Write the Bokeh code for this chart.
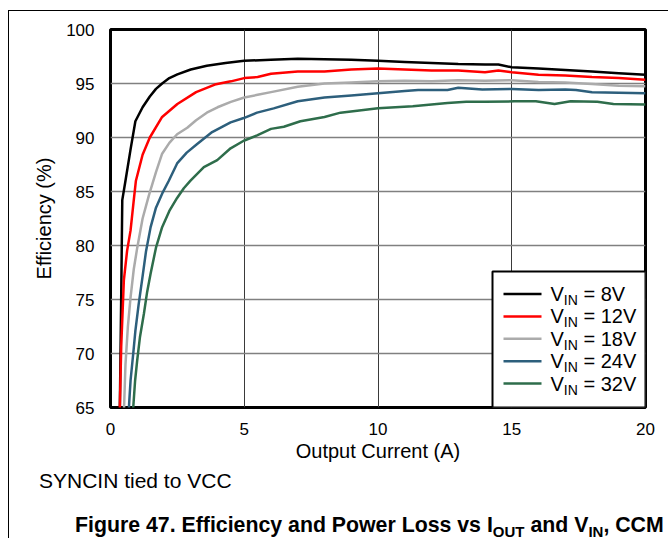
from bokeh.plotting import figure
from bokeh.models import Range1d, Label, FixedTicker, Div
from bokeh.layouts import column
from bokeh.embed import file_html
from bokeh.resources import INLINE

# ---------------- data ----------------
x_ticks = [0, 5, 10, 15, 20]
y_ticks = [65, 70, 75, 80, 85, 90, 95, 100]

vin_labels = ["8V", "12V", "18V", "24V", "32V"]
vin_colors = ["#000000", "#ff0000", "#ababab", "#2d5f7c", "#2e6d4b"]

i_8v = [0.34, 0.40, 0.44, 0.56, 0.75, 0.93, 1.2, 1.47, 1.7, 1.93, 2.2, 2.5, 3.0, 3.6, 4.3, 5.0,
        6.0, 7.0, 8.0, 9.0, 10.0, 11.0, 12.0, 13.0, 14.0, 14.5, 15.0, 16.0, 17.0, 18.0, 19.0, 20.0]
eff_8v = [63.0, 75.2, 84.2, 86.0, 88.9, 91.5, 92.8, 93.8, 94.5, 95.0, 95.5, 95.85, 96.3, 96.65, 96.9, 97.1,
          97.2, 97.3, 97.25, 97.2, 97.1, 97.0, 96.9, 96.8, 96.75, 96.75, 96.5, 96.4, 96.25, 96.1, 95.95, 95.8]

i_12v = [0.34, 0.40, 0.50, 0.62, 0.75, 0.87, 0.95, 1.2, 1.47, 1.93, 2.5, 3.2, 3.9, 4.5, 5.0, 5.5,
         6.0, 7.0, 8.0, 9.0, 10.0, 11.0, 12.0, 13.0, 14.0, 14.5, 15.0, 16.0, 17.0, 18.0, 19.0, 20.0]
eff_12v = [64.0, 70.6, 76.8, 79.5, 81.4, 84.2, 86.0, 88.4, 90.0, 91.9, 93.1, 94.2, 94.9, 95.2, 95.5, 95.6,
           95.9, 96.1, 96.1, 96.3, 96.4, 96.3, 96.2, 96.2, 96.05, 96.2, 96.05, 95.8, 95.75, 95.6, 95.5, 95.35]

i_18v = [0.48, 0.52, 0.56, 0.65, 0.75, 0.87, 1.0, 1.2, 1.43, 1.7, 1.93, 2.2, 2.49, 2.87, 3.2, 3.6,
         4.0, 4.5, 5.0, 5.5, 6.0, 7.0, 8.0, 9.0, 10.0, 11.0, 12.0, 13.0, 14.0, 15.0, 16.0, 17.0,
         18.0, 19.0, 20.0]
eff_18v = [63.0, 66.0, 69.0, 72.5, 75.2, 77.8, 79.8, 82.5, 84.6, 86.8, 88.5, 89.5, 90.3, 90.9, 91.6, 92.3,
           92.8, 93.3, 93.7, 93.95, 94.2, 94.7, 95.0, 95.1, 95.2, 95.25, 95.2, 95.3, 95.25, 95.3, 95.15, 95.1,
           94.95, 94.8, 94.75]

i_24v = [0.65, 0.70, 0.75, 0.85, 0.93, 1.05, 1.18, 1.33, 1.5, 1.7, 1.93, 2.18, 2.49, 2.85, 3.24, 3.8,
         4.49, 4.98, 5.48, 6.1, 7.0, 8.0, 9.0, 10.0, 11.0, 11.5, 12.6, 13.0, 13.9, 15.0, 16.0, 17.0,
         17.4, 18.0, 19.0, 20.0]
eff_24v = [63.0, 65.5, 67.5, 70.0, 72.1, 74.5, 76.8, 79.5, 81.7, 83.5, 84.8, 86.0, 87.6, 88.6, 89.4, 90.5,
           91.4, 91.8, 92.3, 92.7, 93.35, 93.7, 93.9, 94.1, 94.3, 94.4, 94.4, 94.6, 94.45, 94.5, 94.4, 94.45,
           94.4, 94.2, 94.15, 94.1]

i_32v = [0.82, 0.85, 0.92, 1.0, 1.1, 1.25, 1.37, 1.5, 1.7, 1.93, 2.2, 2.49, 2.74, 2.99, 3.49, 3.99,
         4.49, 4.98, 5.48, 6.0, 6.48, 7.1, 8.0, 8.6, 9.3, 10.0, 11.3, 12.6, 13.3, 14.0, 15.1, 15.9,
         16.6, 17.2, 18.2, 18.8, 20.0]
eff_32v = [63.0, 65.0, 67.5, 69.4, 71.5, 73.7, 75.7, 77.4, 79.8, 81.7, 83.2, 84.4, 85.3, 86.0, 87.25, 87.9,
           89.0, 89.7, 90.2, 90.8, 91.0, 91.5, 91.9, 92.3, 92.5, 92.7, 92.9, 93.2, 93.3, 93.3, 93.35, 93.35,
           93.1, 93.35, 93.3, 93.1, 93.05]

currents = [i_8v, i_12v, i_18v, i_24v, i_32v]
efficiencies = [eff_8v, eff_12v, eff_18v, eff_24v, eff_32v]

x_label = "Output Current (A)"
y_label = "Efficiency (%)"
note_text = "SYNCIN tied to VCC"
caption_html = ("Figure 47. Efficiency and Power Loss vs I<sub>OUT</sub> and V<sub>IN</sub>, CCM")

# ---------------- layout ----------------
FONT = "Liberation Sans"
W = 659
H1, H2 = 459, 68
B_LEFT, B_RIGHT, B_TOP, B_BOTTOM = 101, 23, 18, 63
FRAME_W = W - B_LEFT - B_RIGHT
FRAME_H = H1 - B_TOP - B_BOTTOM
X0, X1 = x_ticks[0], x_ticks[-1]
Y0, Y1 = y_ticks[0], y_ticks[-1]


def sx2d(sx):
    return X0 + sx * (X1 - X0) / FRAME_W


def sy2d(sy):
    return Y0 + sy * (Y1 - Y0) / FRAME_H


# Arial / Liberation Sans advance widths (per 1000 em)
REG = {' ': 278, '=': 584, 'V': 667, 'I': 278, 'N': 722, '0': 556, '1': 556, '2': 556, '3': 556,
       '4': 556, '5': 556, '6': 556, '7': 556, '8': 556, '9': 556}


def text_w(t, size):
    return sum(REG.get(c, 556) for c in t) * size / 1000.0


def add_runs(fig, runs, x, y):
    """runs: list of (text, size, dy). Leading spaces become an x advance."""
    for txt, size, dy in runs:
        lead = len(txt) - len(txt.lstrip(" "))
        x += text_w(" " * lead, size)
        t = txt.lstrip(" ")
        fig.add_layout(Label(x=x, y=y + dy, x_units="screen", y_units="screen", text=t,
                             text_font=FONT, text_font_size=f"{size}px",
                             text_color="black", text_baseline="middle", text_align="left"))
        x += text_w(t, size)


p = figure(width=W, height=H1, output_backend="svg", toolbar_location=None,
           x_range=Range1d(X0, X1), y_range=Range1d(Y0, Y1),
           min_border_left=B_LEFT, min_border_right=B_RIGHT,
           min_border_top=B_TOP, min_border_bottom=B_BOTTOM)
p.background_fill_color = "white"
p.border_fill_color = "white"
p.outline_line_color = "black"
p.outline_line_width = 3

# grid
p.xgrid.ticker = FixedTicker(ticks=x_ticks[1:-1])
p.ygrid.ticker = FixedTicker(ticks=y_ticks[1:-1])
p.xgrid.grid_line_color = "#3a3a3a"
p.xgrid.grid_line_width = 1
p.ygrid.grid_line_color = "#808080"
p.ygrid.grid_line_width = 1.5

# axes
for ax, ticks in ((p.xaxis[0], x_ticks), (p.yaxis[0], y_ticks)):
    ax.ticker = FixedTicker(ticks=ticks)
    ax.axis_line_color = None
    ax.major_tick_line_color = None
    ax.minor_tick_line_color = None
    ax.major_label_text_font = FONT
    ax.major_label_text_font_size = "17px"
    ax.major_label_text_color = "black"
    ax.axis_label_text_font = FONT
    ax.axis_label_text_font_size = "20px"
    ax.axis_label_text_font_style = "normal"
    ax.axis_label_text_color = "black"
p.xaxis.axis_label = x_label
p.yaxis.axis_label = y_label
p.xaxis.major_label_standoff = 9
p.xaxis.axis_label_standoff = 2
p.yaxis.major_label_standoff = 10
p.yaxis.axis_label_standoff = 8

# curves
for xs, ys, col in zip(currents, efficiencies, vin_colors):
    p.line(xs, ys, line_color=col, line_width=2.5)

# legend box (manual, for subscripts)
LEG_LEFT, LEG_TOP = 382, 136
p.quad(left=[sx2d(LEG_LEFT)], right=[X1], bottom=[Y0], top=[sy2d(LEG_TOP)],
       fill_color="white", line_color="black", line_width=2)
ROW0, ROW_STEP = 113.5, 22.4
LINE_X0, LINE_X1, TEXT_X = 393, 431, 440
for k, (lab, col) in enumerate(zip(vin_labels, vin_colors)):
    sy = ROW0 - k * ROW_STEP
    p.line([sx2d(LINE_X0), sx2d(LINE_X1)], [sy2d(sy), sy2d(sy)], line_color=col, line_width=2.5)
    add_runs(p, [("V", 20, 0), ("IN", 14, -6), (" = " + lab, 20, 0)], TEXT_X, sy)

# ---------------- text strip below the chart ----------------
sub_css = "font-size:15px;vertical-align:-5px;line-height:0;"
html = (
    f'<div style="position:relative;width:{W}px;height:{H2}px;'
    f"font-family:'{FONT}',Arial,sans-serif;color:#000;\">"
    f'<div style="position:absolute;left:30px;top:0px;font-size:21px;line-height:21px;'
    f'white-space:nowrap;">{note_text}</div>'
    f'<div style="position:absolute;left:66px;top:44px;font-size:21.3px;line-height:22px;'
    f'font-weight:bold;white-space:nowrap;">'
    + caption_html.replace("<sub>", f'<sub style="{sub_css}">')
    + "</div></div>"
)
q = Div(text=html, width=W, height=H2, margin=0)

layout = column(p, q, margin=(10, 0, 0, 8),
                styles={"border-top": "1px solid black", "border-left": "1px solid black"})

open("out.html", "w").write(file_html(layout, INLINE))
